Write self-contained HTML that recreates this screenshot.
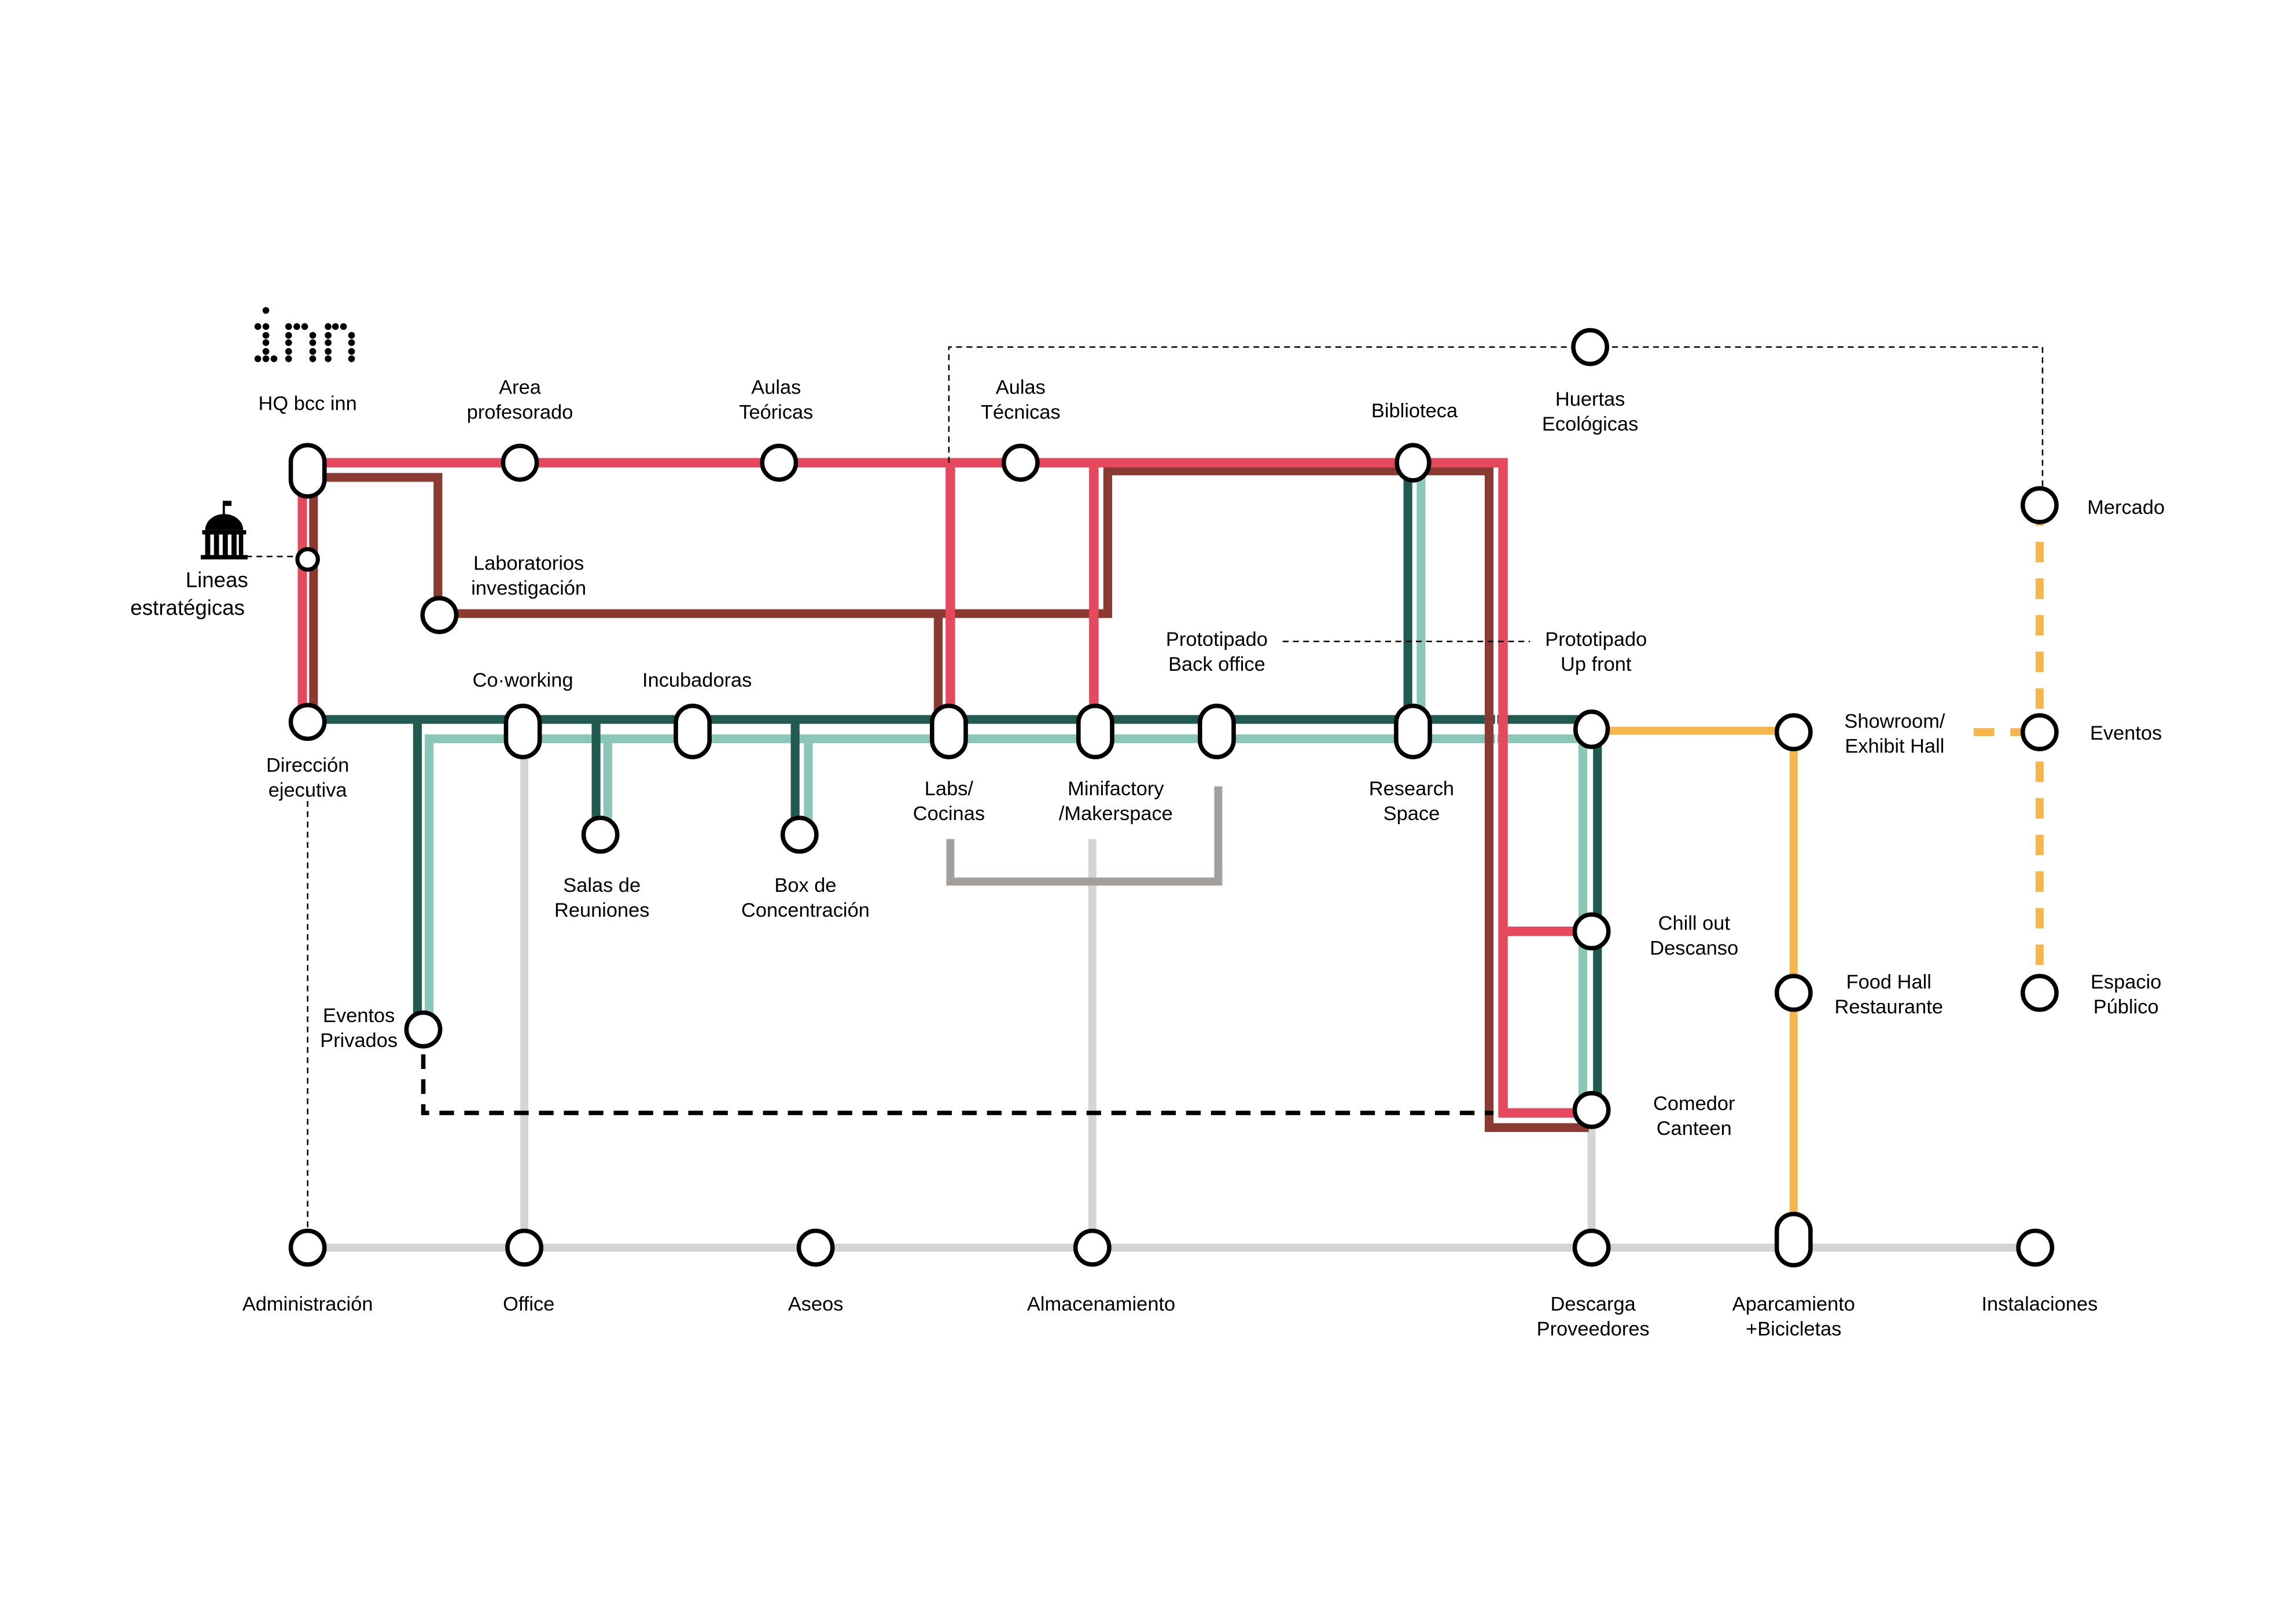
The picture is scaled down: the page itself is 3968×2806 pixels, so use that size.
<!DOCTYPE html>
<html><head><meta charset="utf-8"><style>
html,body{margin:0;padding:0;background:#fff;}
svg{display:block}
text{font-family:"Liberation Sans",sans-serif;font-size:13.6px;fill:#000;text-anchor:middle}
</style></head><body>
<svg width="3968" height="2806" viewBox="0 0 1568 1109" xmlns="http://www.w3.org/2000/svg">
<g fill="none" stroke-linejoin="miter">
<!-- light gray bottom -->
<g stroke="#d4d4d4" stroke-width="5.5">
<line x1="210" y1="852" x2="1390" y2="852"/>
<line x1="358" y1="504" x2="358" y2="852"/>
<line x1="746" y1="573" x2="746" y2="852"/>
<line x1="1087" y1="760" x2="1087" y2="852"/>
</g>
<polyline stroke="#a39f9c" stroke-width="5.5" points="649,573 649,602 832,602 832,537"/>
<!-- yellow -->
<g stroke="#f7b64b" stroke-width="5.5">
<line x1="1087" y1="499" x2="1225" y2="499"/>
<line x1="1225" y1="499" x2="1225" y2="846"/>
<line x1="1393" y1="345" x2="1393" y2="678" stroke-dasharray="14,11"/>
<line x1="1348" y1="500" x2="1393" y2="500" stroke-dasharray="14,11"/>
</g>
<!-- mint -->
<g stroke="#8ac7b9" stroke-width="6">
<polyline points="293,703 293,504.5 1081,504.5 1081,760"/>
<polyline points="415,504 415,570"/>
<polyline points="552,504 552,570"/>
<line x1="970.5" y1="316" x2="970.5" y2="499"/>
</g>
<!-- dark green -->
<g stroke="#215a50" stroke-width="6">
<polyline points="210,491.3 1091,491.3 1091,760"/>
<line x1="285" y1="491" x2="285" y2="703"/>
<line x1="407" y1="491" x2="407" y2="570"/>
<line x1="543" y1="491" x2="543" y2="570"/>
<line x1="961.5" y1="316" x2="961.5" y2="499"/>
</g>
<!-- brown -->
<g stroke="#8b3a32" stroke-width="6">
<line x1="214" y1="326" x2="214" y2="493"/>
<polyline points="214,326 299,326 299,420"/>
<polyline points="300,419 756.5,419 756.5,321.6 1017,321.6 1017,770 1085,770"/>
<polyline points="640.7,419 640.7,493"/>
</g>
<!-- red -->
<g stroke="#e6485e" stroke-width="6.5">
<line x1="206.5" y1="321" x2="206.5" y2="493"/>
<polyline points="210,316 1026.5,316 1026.5,760 1087,760"/>
<line x1="649" y1="316" x2="649" y2="497"/>
<line x1="747" y1="316" x2="747" y2="497"/>
<line x1="1026.5" y1="636" x2="1087" y2="636"/>
</g>
<!-- white separators between double lines -->
<g stroke="#fff" stroke-width="1.5">
<line x1="210.3" y1="340" x2="210.3" y2="480"/>
<line x1="1021.8" y1="326" x2="1021.8" y2="765"/>
</g>
<!-- dashed -->
<polyline stroke="#000" stroke-width="3" stroke-dasharray="10,7" points="289,703 289,760 1020,760"/>
<g stroke="#000" stroke-width="1" stroke-dasharray="4,3">
<polyline points="648,316 648,237 1395,237 1395,345"/>
<line x1="876" y1="438" x2="1045" y2="438"/>
<line x1="168" y1="380" x2="210" y2="380"/>
<line x1="210" y1="540" x2="210" y2="852"/>
</g>
</g>
<!-- nodes -->
<g fill="#fff" stroke="#000" stroke-width="3">
<circle cx="355" cy="316" r="11.5"/><circle cx="532" cy="316" r="11.5"/>
<circle cx="697" cy="316" r="11.5"/><ellipse cx="965" cy="316" rx="11" ry="12"/>
<circle cx="1086" cy="237" r="11.5"/><circle cx="1393" cy="345" r="11.5"/>
<circle cx="300" cy="420" r="11.5"/><circle cx="210" cy="493" r="11.5"/>
<circle cx="410" cy="570" r="11.5"/><circle cx="546" cy="570" r="11.5"/>
<circle cx="1087" cy="636" r="11.5"/><circle cx="1225" cy="678" r="11.5"/>
<circle cx="1393" cy="678" r="11.5"/><circle cx="1393" cy="500" r="11.5"/>
<circle cx="1087" cy="758" r="11.5"/><circle cx="289" cy="703" r="11.5"/>
<circle cx="1225" cy="500" r="11.5"/><ellipse cx="1087" cy="498" rx="11" ry="12"/>
<circle cx="210" cy="852" r="11.5"/><circle cx="358" cy="852" r="11.5"/>
<circle cx="557" cy="852" r="11.5"/><circle cx="746" cy="852" r="11.5"/>
<circle cx="1087" cy="852" r="11.5"/><circle cx="1390" cy="852" r="11.5"/>
<circle cx="210" cy="382" r="7" stroke-width="2.8"/>
<rect x="198.5" y="304" width="23" height="35" rx="11.5"/>
<rect x="345.5" y="482" width="23" height="35" rx="11.5"/>
<rect x="461.5" y="482" width="23" height="35" rx="11.5"/>
<rect x="636.5" y="482" width="23" height="35" rx="11.5"/>
<rect x="736.5" y="482" width="23" height="35" rx="11.5"/>
<rect x="819.5" y="482" width="23" height="35" rx="11.5"/>
<rect x="953.5" y="482" width="23" height="35" rx="11.5"/>
<rect x="1213.5" y="829" width="23" height="35" rx="11.5"/>
</g>
<!-- logo dots -->
<g fill="#000">
<circle cx="181.5" cy="212" r="2.3"/>
<circle cx="176" cy="223" r="2.3"/><circle cx="181.5" cy="223" r="2.3"/>
<circle cx="181.5" cy="229" r="2.3"/><circle cx="181.5" cy="234" r="2.3"/><circle cx="181.5" cy="240" r="2.3"/>
<circle cx="176" cy="245" r="2.3"/><circle cx="181.5" cy="245" r="2.3"/><circle cx="187" cy="245" r="2.3"/>
<circle cx="197" cy="223" r="2.3"/><circle cx="202.6" cy="223" r="2.3"/><circle cx="208" cy="223" r="2.3"/>
<circle cx="197" cy="229" r="2.3"/><circle cx="197" cy="234" r="2.3"/><circle cx="197" cy="240" r="2.3"/><circle cx="197" cy="245" r="2.3"/>
<circle cx="213.5" cy="229" r="2.3"/><circle cx="213.5" cy="234" r="2.3"/><circle cx="213.5" cy="240" r="2.3"/><circle cx="213.5" cy="245" r="2.3"/>
<circle cx="224" cy="223" r="2.3"/><circle cx="229" cy="223" r="2.3"/><circle cx="234.5" cy="223" r="2.3"/>
<circle cx="224" cy="229" r="2.3"/><circle cx="224" cy="234" r="2.3"/><circle cx="224" cy="240" r="2.3"/><circle cx="224" cy="245" r="2.3"/>
<circle cx="240" cy="229" r="2.3"/><circle cx="240" cy="234" r="2.3"/><circle cx="240" cy="240" r="2.3"/><circle cx="240" cy="245" r="2.3"/>
</g>
<!-- government icon -->
<g fill="#000">
<rect x="152" y="342" width="1.5" height="10"/>
<rect x="153" y="342" width="5" height="3.5"/>
<path d="M140,362 A13,11 0 0 1 166,362 Z"/>
<rect x="138" y="362" width="30" height="3"/>
<rect x="140" y="365" width="3.5" height="14"/><rect x="146" y="365" width="3.5" height="14"/>
<rect x="152" y="365" width="3.5" height="14"/><rect x="158" y="365" width="3.5" height="14"/>
<rect x="163" y="365" width="3" height="14"/>
<rect x="137" y="379" width="32" height="3"/>
</g>
<!-- labels -->
<text x="210" y="280">HQ bcc inn</text>
<text x="355" y="269">Area</text><text x="355" y="286">profesorado</text>
<text x="530" y="269">Aulas</text><text x="530" y="286">Teóricas</text>
<text x="697" y="269">Aulas</text><text x="697" y="286">Técnicas</text>
<text x="966" y="285">Biblioteca</text>
<text x="1086" y="277">Huertas</text><text x="1086" y="294">Ecológicas</text>
<text x="1452" y="351">Mercado</text>
<text x="361" y="389">Laboratorios</text><text x="361" y="406">investigación</text>
<text x="148" y="401" style="font-size:14.5px">Lineas</text><text x="128" y="420" style="font-size:14.5px">estratégicas</text>
<text x="831" y="441">Prototipado</text><text x="831" y="458">Back office</text>
<text x="1090" y="441">Prototipado</text><text x="1090" y="458">Up front</text>
<text x="357" y="469">Co·working</text>
<text x="476" y="469">Incubadoras</text>
<text x="210" y="527">Dirección</text><text x="210" y="544">ejecutiva</text>
<text x="648" y="543">Labs/</text><text x="648" y="560">Cocinas</text>
<text x="762" y="543">Minifactory</text><text x="762" y="560">/Makerspace</text>
<text x="964" y="543">Research</text><text x="964" y="560">Space</text>
<text x="1294" y="497">Showroom/</text><text x="1294" y="514">Exhibit Hall</text>
<text x="1452" y="505">Eventos</text>
<text x="411" y="609">Salas de</text><text x="411" y="626">Reuniones</text>
<text x="550" y="609">Box de</text><text x="550" y="626">Concentración</text>
<text x="1157" y="635">Chill out</text><text x="1157" y="652">Descanso</text>
<text x="1290" y="675">Food Hall</text><text x="1290" y="692">Restaurante</text>
<text x="1452" y="675">Espacio</text><text x="1452" y="692">Público</text>
<text x="245" y="698">Eventos</text><text x="245" y="715">Privados</text>
<text x="1157" y="758">Comedor</text><text x="1157" y="775">Canteen</text>
<text x="210" y="895">Administración</text>
<text x="361" y="895">Office</text>
<text x="557" y="895">Aseos</text>
<text x="752" y="895">Almacenamiento</text>
<text x="1088" y="895">Descarga</text><text x="1088" y="912">Proveedores</text>
<text x="1225" y="895">Aparcamiento</text><text x="1225" y="912">+Bicicletas</text>
<text x="1393" y="895">Instalaciones</text>
</svg>
</body></html>
